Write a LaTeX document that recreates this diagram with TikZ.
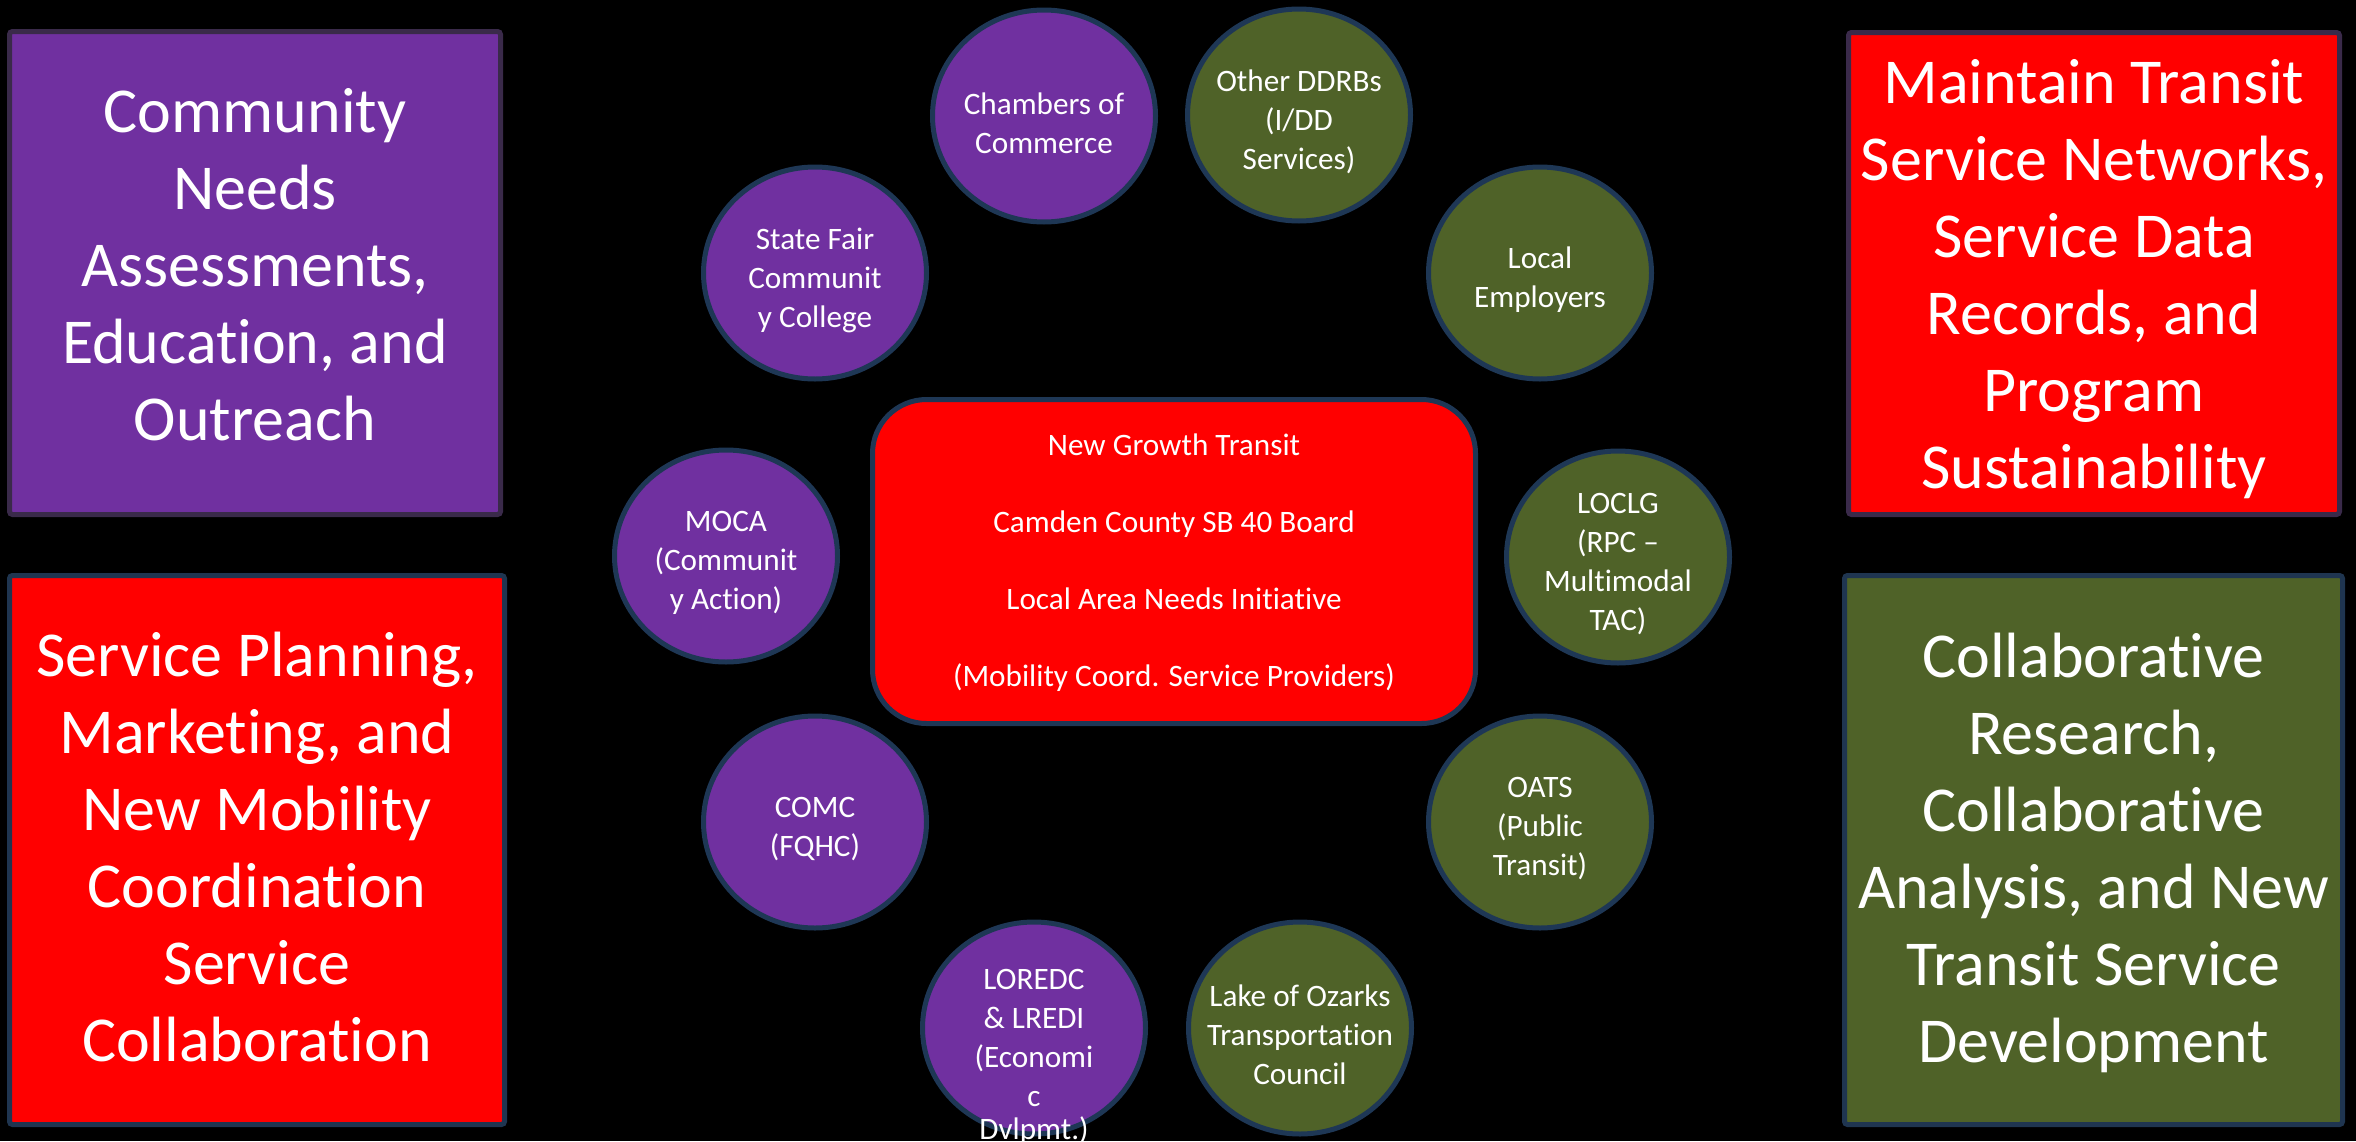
\documentclass[tikz,border=0pt]{standalone}
\usepackage{fontspec}
\setmainfont{Carlito}[Ligatures=NoCommon]
\usetikzlibrary{shapes.geometric}
\definecolor{cpurple}{HTML}{7030A0}
\definecolor{cred}{HTML}{FF0000}
\definecolor{cgreen}{HTML}{4F6228}
\definecolor{cborder}{HTML}{1E3755}
\definecolor{pborder}{HTML}{3A2A4A}
\definecolor{bborder}{HTML}{1F3550}
\tikzset{
  circ/.style={ellipse, draw=cborder, line width=2.5pt, minimum width=111.5pt, minimum height=106pt, inner sep=0pt},
  ctext/.style={text=white, align=center, font=\fontsize{15.6}{19.5}\selectfont, inner sep=0pt, yshift=-3.5pt},
  bigbox/.style={rectangle, line width=2.5pt, inner sep=0pt, rounded corners=1.5pt},
  btext/.style={text=white, align=center, font=\fontsize{32}{38.5}\selectfont, inner sep=0pt},
}
\begin{document}
\begin{tikzpicture}[x=0.5pt,y=-0.5pt]
\fill[black] (0,0) rectangle (2356,1141);
\useasboundingbox (0,0) rectangle (2356,1141);
\clip (0,0) rectangle (2356,1141);

% big corner boxes
\node[bigbox, draw=pborder, fill=cpurple, minimum width=245.5pt, minimum height=241.5pt] (b1) at (255,273) {};
\node[btext] (b1t) at (255,264.5) {Community\\Needs\\Assessments,\\Education, and\\Outreach};

\node[bigbox, draw=bborder, fill=cred, minimum width=247.5pt, minimum height=274.5pt] (b2) at (257,850) {};
\node[btext] (b2t) at (257,847.5) {Service Planning,\\Marketing, and\\New Mobility\\Coordination\\Service\\Collaboration};

\node[bigbox, draw=pborder, fill=cred, minimum width=245.5pt, minimum height=241pt] (b3) at (2094,273.5) {};
\node[btext] (b3t) at (2094,279) {Maintain Transit\\Service Networks,\\Service Data\\Records, and\\Program\\Sustainability};

\node[bigbox, draw=bborder, fill=cgreen, minimum width=249pt, minimum height=274.5pt] (b4) at (2093.5,850) {};
\node[btext] (b4t) at (2093.5,853) {Collaborative\\Research,\\Collaborative\\Analysis, and New\\Transit Service\\Development};

% central box
\node[draw=cborder, fill=cred, line width=2.5pt, rounded corners=27pt, minimum width=301.5pt, minimum height=162pt, inner sep=0pt] (core) at (1174,561.5) {};
\node[text=white, align=center, font=\fontsize{15.6}{38.5}\selectfont, inner sep=0pt] (coret) at (1174,563) {New Growth Transit\\Camden County SB 40 Board\\Local Area Needs Initiative\\(Mobility Coord. Service Providers)};

% circles
\node[circ, fill=cpurple] (chambers) at (1044,116) {};
\node[ctext] (chambersT) at (chambers) {Chambers of\\Commerce};

\node[circ, fill=cgreen] (ddrb) at (1299,115) {};
\node[ctext] (ddrbT) at (ddrb) {Other DDRBs\\(I/DD\\Services)};

\node[circ, fill=cpurple] (sfcc) at (815,273) {};
\node[ctext] (sfccT) at (sfcc) {State Fair\\Communit\\y College};

\node[circ, fill=cgreen] (emp) at (1540,273) {};
\node[ctext] (empT) at (emp) {Local\\Employers};

\node[circ, fill=cpurple] (moca) at (726,556) {};
\node[ctext] (mocaT) at (moca) {MOCA\\(Communit\\y Action)};

\node[circ, fill=cgreen] (loclg) at (1618,557) {};
\node[ctext] (loclgT) at (loclg) {LOCLG\\(RPC --\\Multimodal\\TAC)};

\node[circ, fill=cpurple] (comc) at (815,822) {};
\node[ctext] (comcT) at (comc) {COMC\\(FQHC)};

\node[circ, fill=cgreen] (oats) at (1540,822) {};
\node[ctext] (oatsT) at (oats) {OATS\\(Public\\Transit)};

\node[circ, fill=cpurple] (loredc) at (1034,1028) {};
\node[text=white, align=center, font=\fontsize{15.6}{19.5}\selectfont, inner sep=0pt, anchor=north] (loredcT) at (1034,969) {LOREDC\\\& LREDI\\(Economi\\c\\[-3pt]Dvlpmt.)};

\node[circ, fill=cgreen] (lotc) at (1300,1028) {};
\node[ctext] (lotcT) at (lotc) {Lake of Ozarks\\Transportation\\Council};
\end{tikzpicture}
\end{document}
